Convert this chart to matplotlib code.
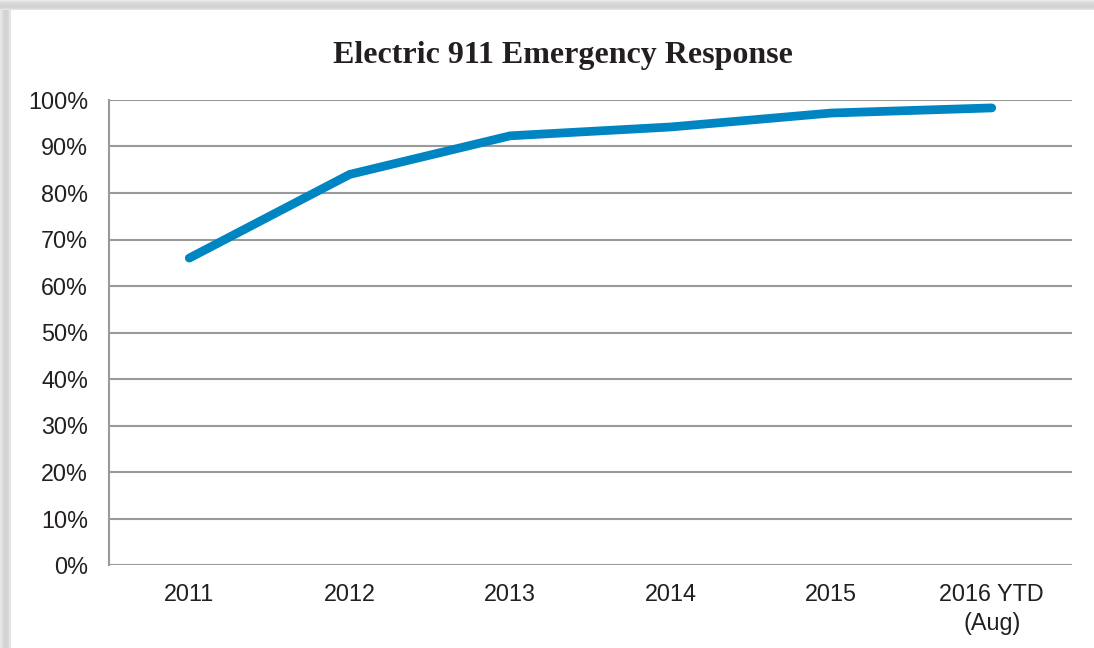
import matplotlib.pyplot as plt
from matplotlib.patches import Rectangle
from matplotlib.ticker import FuncFormatter

years = ["2011", "2012", "2013", "2014", "2015", "2016 YTD\n(Aug)"]
response = [66, 84, 92.3, 94.2, 97.2, 98.3]
y_ticks = list(range(0, 101, 10))

fig = plt.figure(figsize=(10.94, 6.48), dpi=100)
fig.patch.set_facecolor("white")

# shaded frame along the top and left edges
W, H = 1094, 648
shades = ["#e8e8e8", "#e2e2e2", "#dcdcdc", "#d8d8d8", "#d5d5d5",
          "#d3d3d3", "#d2d2d2", "#d4d4d4", "#d9d9d9", "#e4e4e4"]
for i, c in enumerate(shades):
    fig.patches.append(Rectangle((0, 1 - (i + 1) / H), 1, 1 / H + 0.0005,
                                 transform=fig.transFigure, color=c, lw=0, zorder=0))
    fig.patches.append(Rectangle((i / W, 0), 1 / W + 0.0005, 1 - 10 / H,
                                 transform=fig.transFigure, color=c, lw=0, zorder=0))

ax = fig.add_axes([109 / W, 83 / H, 963 / W, 465 / H])
ax.plot(range(len(years)), response, color="#0085c3", lw=6.3,
        solid_capstyle="round", solid_joinstyle="round", zorder=3)

ax.set_xlim(-0.5, len(years) - 0.5)
ax.set_ylim(0, 100)
ax.set_yticks(y_ticks)
ax.yaxis.set_major_formatter(FuncFormatter(lambda v, p: f"{v:.0f}%"))
ax.set_xticks(range(len(years)))
ax.set_xticklabels(years, linespacing=1.35)
ax.grid(axis="y", color="#9a9a9a", lw=1.5)
ax.set_axisbelow(True)
ax.tick_params(length=0, labelsize=16.8, colors="#231f20")
ax.tick_params(axis="y", pad=15)
ax.tick_params(axis="x", pad=13)
for s in ["top", "right", "bottom"]:
    ax.spines[s].set_visible(False)
ax.spines["left"].set_color("#9a9a9a")
ax.spines["left"].set_linewidth(1.5)
for lbl in ax.get_xticklabels() + ax.get_yticklabels():
    lbl.set_fontfamily("Liberation Sans")

fig.text(563 / W, 1 - 55 / H, "Electric 911 Emergency Response", ha="center", va="center",
         fontsize=23, fontweight="bold", fontfamily="Liberation Serif", color="#231f20")

fig.savefig("out.png", dpi=100)
